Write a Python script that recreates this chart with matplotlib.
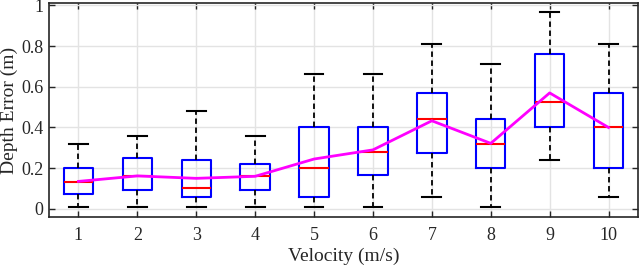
import matplotlib
matplotlib.use("Agg")
import matplotlib.pyplot as plt

# Rychlosti a statistiky boxplotu
velocity = [1, 2, 3, 4, 5, 6, 7, 8, 9, 10]
whisker_lo = [0.008, 0.008, 0.008, 0.008, 0.008, 0.008, 0.06, 0.008, 0.24, 0.06]
q1 = [0.072, 0.093, 0.06, 0.093, 0.06, 0.167, 0.276, 0.202, 0.40, 0.202]
median = [0.132, 0.162, 0.101, 0.162, 0.202, 0.278, 0.44, 0.317, 0.525, 0.40]
q3 = [0.202, 0.248, 0.239, 0.22, 0.40, 0.40, 0.57, 0.44, 0.76, 0.57]
whisker_hi = [0.317, 0.358, 0.48, 0.358, 0.665, 0.665, 0.81, 0.71, 0.966, 0.81]
mean = [0.135, 0.162, 0.15, 0.16, 0.245, 0.29, 0.433, 0.322, 0.57, 0.40]

plt.rcParams['font.family'] = ['Liberation Serif', 'DejaVu Serif']

stats = []
for i in range(len(velocity)):
    stats.append({'med': median[i], 'q1': q1[i], 'q3': q3[i],
                  'whislo': whisker_lo[i], 'whishi': whisker_hi[i], 'fliers': []})

fig = plt.figure(figsize=(6.4, 2.69), dpi=100)
ax = fig.add_axes([49 / 640, 1 - 217 / 269, 589 / 640, 214 / 269])

ax.grid(True, color='#e3e3e3', linewidth=1.0, zorder=0)
ax.set_axisbelow(True)

ax.bxp(stats, positions=velocity, widths=0.5, showfliers=False,
       boxprops=dict(color='blue', linewidth=1.5),
       medianprops=dict(color='red', linewidth=1.5),
       whiskerprops=dict(color='black', linewidth=1.3, linestyle=(0, (3, 2))),
       capprops=dict(color='black', linewidth=1.5),
       capwidths=0.32)

ax.plot(velocity, mean, color='magenta', linewidth=2, zorder=5)

ax.set_xlim(0.5, 10.5)
ax.set_ylim(-0.04, 1.012)
ax.set_xticks(velocity)
ax.set_xticklabels([str(v) for v in velocity])
ax.set_yticks([0, 0.2, 0.4, 0.6, 0.8, 1])
ax.set_yticklabels(['0', '0.2', '0.4', '0.6', '0.8', '1'])
ax.tick_params(direction='in', top=True, right=True, length=4, width=1,
               labelsize=13, colors='#262626', pad=7)
ax.tick_params(axis='y', pad=4)
for s in ax.spines.values():
    s.set_color('#262626')
    s.set_linewidth(1.2)

ax.set_xlabel('Velocity (m/s)', fontsize=14, color='#262626', labelpad=3)
ax.set_ylabel('Depth Error (m)', fontsize=14, color='#262626', labelpad=2)

fig.savefig('out.png', dpi=100)
